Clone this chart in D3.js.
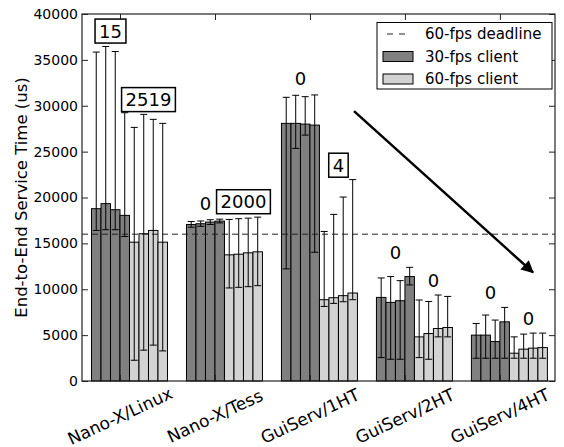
<!DOCTYPE html>
<html lang="en">
<head>
<meta charset="UTF-8">
<title>End-to-End Service Time</title>
<script src="https://d3js.org/d3.v7.min.js"></script>
<style>
  body { margin: 0; background: white; font-family: "DejaVu Sans", sans-serif; }
  text { fill: black; }
</style>
</head>
<body>
<svg id="chart" width="564" height="447"></svg>
<script>
const groups = ["Nano-X/Linux", "Nano-X/Tess", "GuiServ/1HT", "GuiServ/2HT", "GuiServ/4HT"];

// four runs per group, 30-fps client
const fps30Mean = [[18780, 19330, 18670, 18050], [17060, 17140, 17320, 17430], [28080, 28080, 28000, 27890], [9110, 8570, 8750, 11380], [5000, 5000, 4300, 6450]];
const fps30Max  = [[35850, 36460, 35910, 29240], [17380, 17440, 17580, 17640], [30920, 31140, 30990, 31180], [11230, 11380, 10940, 12390], [6270, 7190, 6640, 8020]];
const fps30Min  = [[16410, 16490, 16490, 15750], [16760, 16860, 17060, 17230], [12220, 25350, 26800, 14030], [2550, 2370, 2370, 10470], [2480, 2480, 2480, 2480]];

// four runs per group, 60-fps client
const fps60Mean = [[15130, 16050, 16410, 15130], [13750, 13820, 13970, 14080], [8860, 9080, 9300, 9590], [4810, 5170, 5720, 5830], [3030, 3470, 3580, 3640]];
const fps60Max  = [[27640, 29060, 28520, 28080], [17610, 17690, 17750, 17860], [16300, 18160, 20050, 21950], [8830, 8670, 9370, 9220], [4810, 5110, 5220, 5220]];
const fps60Min  = [[2260, 3360, 3910, 3280], [10140, 10210, 10280, 10390], [8130, 8460, 8640, 8860], [2550, 2370, 4810, 4810], [2480, 2480, 2480, 2480]];

const deadline = 16000;
const yTicks = [0, 5000, 10000, 15000, 20000, 25000, 30000, 35000, 40000];

// missed-deadline counts shown over each half group
const labelText   = ["15", "2519", "0", "2000", "0", "4", "0", "0", "0", "0"];
const labelBoxed  = [true, true, false, true, false, true, false, false, false, false];
const labelHeight = [38140, 30670, 19370, 19540, 33020, 23520, 14030, 10970, 9660, 6820];

// trend arrow, [group position, value]
const arrowFrom = [2.864, 29410];
const arrowTo   = [4.748, 11840];

const svg = d3.select("#chart");
const pLeft = 82, pRight = 555, pTop = 14, pBottom = 381;

const x = d3.scaleLinear().domain([0, 4.98]).range([pLeft, pRight]);
const y = d3.scaleLinear().domain([0, 40000]).range([pBottom, pTop]);
const barW = 0.1;

// flatten bars
let bars = [];
groups.forEach((g, i) => {
    for (let j = 0; j < 4; j++) {
        bars.push({ pos: i + 0.1 + j * barW, mean: fps30Mean[i][j], hi: fps30Max[i][j], lo: fps30Min[i][j], fill: "#808080" });
    }
    for (let j = 0; j < 4; j++) {
        bars.push({ pos: i + 0.5 + j * barW, mean: fps60Mean[i][j], hi: fps60Max[i][j], lo: fps60Min[i][j], fill: "#d3d3d3" });
    }
});

svg.append("g").selectAll("rect")
    .data(bars)
    .join("rect")
    .attr("x", d => x(d.pos))
    .attr("y", d => y(d.mean))
    .attr("width", x(barW) - x(0))
    .attr("height", d => y(0) - y(d.mean))
    .attr("fill", d => d.fill)
    .attr("stroke", "black")
    .attr("stroke-width", 1);

// error bars
const eb = svg.append("g").attr("stroke", "black").attr("stroke-width", 1);
bars.forEach(d => {
    const cx = x(d.pos + barW / 2);
    eb.append("line").attr("x1", cx).attr("x2", cx).attr("y1", y(d.lo)).attr("y2", y(d.hi));
    eb.append("line").attr("x1", cx - 3.5).attr("x2", cx + 3.5).attr("y1", y(d.hi)).attr("y2", y(d.hi));
    eb.append("line").attr("x1", cx - 3.5).attr("x2", cx + 3.5).attr("y1", y(d.lo)).attr("y2", y(d.lo));
});

// deadline
svg.append("line")
    .attr("x1", pLeft).attr("x2", pRight)
    .attr("y1", y(deadline)).attr("y2", y(deadline))
    .attr("stroke", "#222").attr("stroke-width", 1)
    .attr("stroke-dasharray", "6,4");

// axes
const yAxis = svg.append("g")
    .attr("transform", `translate(${pLeft},0)`)
    .call(d3.axisLeft(y).tickValues(yTicks).tickFormat(d3.format("d")).tickSize(-6).tickPadding(4));
svg.append("g")
    .attr("transform", `translate(${pRight},0)`)
    .call(d3.axisRight(y).tickValues(yTicks).tickFormat("").tickSize(-6));
const xTicks = groups.map((g, i) => i + 0.4);
svg.append("g")
    .attr("transform", `translate(0,${pBottom})`)
    .call(d3.axisBottom(x).tickValues(xTicks).tickFormat("").tickSize(-6));
svg.append("g")
    .attr("transform", `translate(0,${pTop})`)
    .call(d3.axisTop(x).tickValues(xTicks).tickFormat("").tickSize(-6));
svg.selectAll(".domain").remove();
svg.selectAll(".tick line").attr("stroke", "#222");
yAxis.selectAll("text").attr("font-size", 14).attr("font-family", "DejaVu Sans").attr("fill", "black");

svg.append("rect")
    .attr("x", pLeft).attr("y", pTop)
    .attr("width", pRight - pLeft).attr("height", pBottom - pTop)
    .attr("fill", "none").attr("stroke", "#222").attr("stroke-width", 1.2);

// rotated group labels
svg.append("g").selectAll("text")
    .data(groups)
    .join("text")
    .attr("transform", (d, i) => `translate(${x(i + 0.4)},416) rotate(-25)`)
    .attr("text-anchor", "middle")
    .attr("dominant-baseline", "central")
    .attr("font-size", 17)
    .text(d => d);

svg.append("text")
    .attr("transform", `translate(21,${(pTop + pBottom) / 2}) rotate(-90)`)
    .attr("text-anchor", "middle")
    .attr("dominant-baseline", "central")
    .attr("font-size", 16.5)
    .text("End-to-End Service Time (us)");

// count labels
labelText.forEach((t, i) => {
    const lx = x(Math.floor(i / 2) + (i % 2 ? 0.7 : 0.3));
    const ly = y(labelHeight[i]);
    const g = svg.append("g");
    const txt = g.append("text")
        .attr("x", lx).attr("y", ly)
        .attr("text-anchor", "middle")
        .attr("dominant-baseline", "central")
        .attr("font-size", 18)
        .text(t);
    if (labelBoxed[i]) {
        const b = txt.node().getBBox();
        g.insert("rect", "text")
            .attr("x", b.x - 4).attr("y", ly - 12)
            .attr("width", b.width + 8).attr("height", 24)
            .attr("fill", "white").attr("stroke", "black").attr("stroke-width", 1.5);
    }
});

// arrow
svg.append("defs").append("marker")
    .attr("id", "head")
    .attr("viewBox", "0 0 10 10")
    .attr("refX", 9).attr("refY", 5)
    .attr("markerWidth", 6).attr("markerHeight", 5)
    .attr("markerUnits", "strokeWidth")
    .attr("orient", "auto")
    .append("path").attr("d", "M0,0 L10,5 L0,10 z").attr("fill", "black");
svg.append("line")
    .attr("x1", x(arrowFrom[0])).attr("y1", y(arrowFrom[1]))
    .attr("x2", x(arrowTo[0])).attr("y2", y(arrowTo[1]))
    .attr("stroke", "black").attr("stroke-width", 2.5)
    .attr("marker-end", "url(#head)");

// legend
const lg = svg.append("g");
lg.append("rect").attr("x", 377).attr("y", 22.5).attr("width", 175).attr("height", 66.5)
    .attr("fill", "white").attr("stroke", "black").attr("stroke-width", 1);
lg.append("line").attr("x1", 386).attr("x2", 411).attr("y1", 34).attr("y2", 34)
    .attr("stroke", "#222").attr("stroke-dasharray", "6,6").attr("stroke-dashoffset", -1);
lg.append("rect").attr("x", 383).attr("y", 51.5).attr("width", 30).attr("height", 10)
    .attr("fill", "#808080").attr("stroke", "black");
lg.append("rect").attr("x", 383).attr("y", 74).attr("width", 30).attr("height", 10)
    .attr("fill", "#d3d3d3").attr("stroke", "black");
const legendText = ["60-fps deadline", "30-fps client", "60-fps client"];
lg.selectAll(".lt")
    .data(legendText)
    .join("text")
    .attr("x", 425).attr("y", (d, i) => 34 + i * 22.5)
    .attr("dominant-baseline", "central")
    .attr("font-size", 15)
    .text(d => d);
</script>
</body>
</html>
